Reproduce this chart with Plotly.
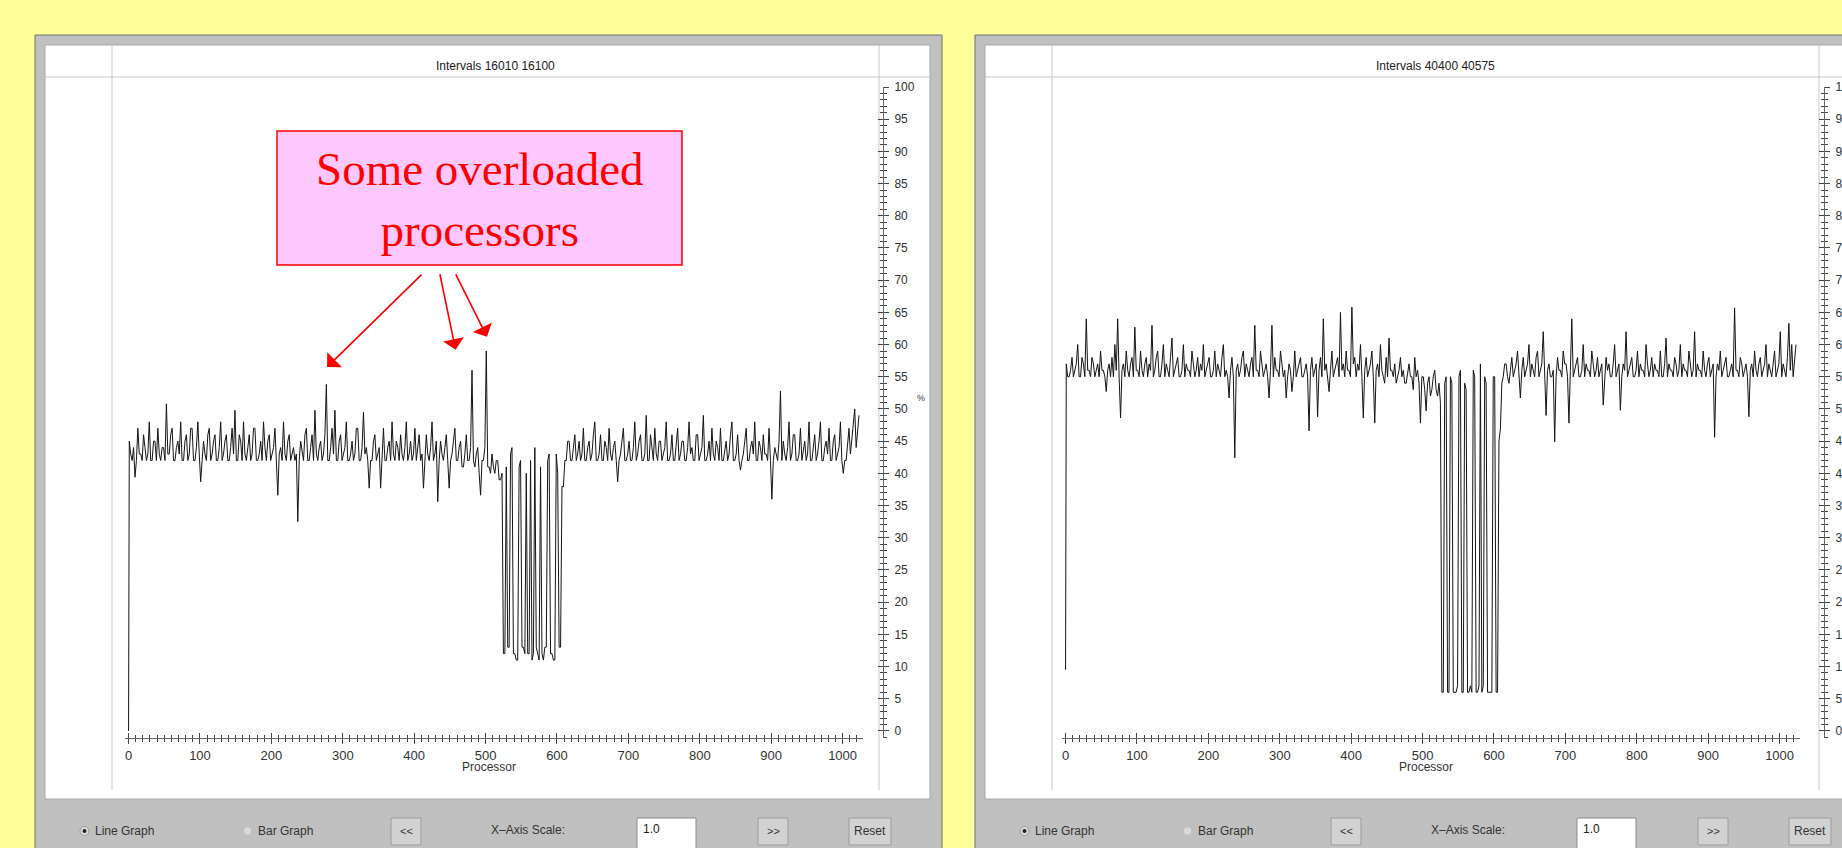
import plotly.graph_objects as go

W, H = 1842, 848

# ---------------- data ----------------
# processor 0, then every 2nd processor from 1
processors = [0] + list(range(1, 1024, 2))

left_usage = [0,
    45, 43, 42, 44, 39.4, 42, 47, 43, 43, 42, 46, 44, 42, 43, 48, 42, 42, 45, 45, 42, 47, 43, 42, 44, 44, 42, 50.8, 43, 43, 46, 47, 42,
    42, 44, 45, 43, 48, 42, 42, 45, 46, 42, 43, 47, 47, 42, 42, 44, 48, 43, 38.7, 42, 45, 43, 42, 46, 47, 42, 43, 45, 46, 42, 42, 44,
    48, 42, 43, 45, 46, 42, 42, 44, 47, 43, 49.8, 42, 42, 46, 45, 42, 48, 43, 42, 44, 46, 42, 43, 47, 47, 42, 42, 43, 45, 42, 48, 44,
    42, 45, 46, 42, 43, 44, 47, 42, 36.6, 43, 44, 42, 48, 43, 42, 45, 46, 42, 43, 44, 42, 43, 32.5, 42, 45, 43, 42, 46, 47, 42, 42, 44,
    46, 42, 49.8, 43, 42, 44, 45, 42, 43, 46, 53.8, 42, 42, 44, 47, 43, 49.8, 42, 42, 45, 46, 42, 43, 44, 48, 42, 42, 43, 45, 42, 43, 47,
    47, 42, 42, 44, 49.5, 43, 44, 42, 37.7, 42, 42, 45, 46, 42, 43, 44, 37.7, 43, 47, 42, 42, 44, 45, 42, 48, 43, 42, 45, 44, 42, 46, 43,
    42, 44, 48, 42, 43, 45, 42, 43, 47, 42, 44, 46, 42, 43, 37.7, 42, 46, 43, 42, 44, 48, 42, 43, 45, 35.6, 42, 45, 43, 42, 44, 46, 42,
    37.7, 42, 43, 45, 47, 42, 42, 44, 45, 41, 41, 43, 46, 42, 42, 44, 56, 42, 41, 43, 44, 40, 36.6, 42, 42, 44, 59, 41, 41, 40, 43, 41,
    40, 42, 42, 39, 39, 40, 12, 12, 41, 13, 13, 43, 44, 12, 12, 11, 11, 41, 42, 13, 13, 12, 40, 12, 12, 42, 11, 12, 44, 13, 12, 11,
    41, 12, 11, 13, 13, 42, 43, 12, 12, 11, 11, 43, 40, 13, 13, 38, 37.9, 42, 42, 45, 45, 42, 42, 44, 46, 42, 43, 45, 42, 43, 47, 42,
    42, 44, 45, 42, 43, 46, 48, 42, 42, 43, 46, 42, 42, 45, 44, 42, 47, 43, 42, 44, 45, 42, 38.7, 42, 43, 45, 47, 42, 42, 43, 45, 42,
    42, 44, 48, 42, 43, 45, 46, 42, 42, 43, 49, 42, 42, 46, 44, 42, 47, 43, 42, 45, 45, 42, 43, 44, 48, 42, 42, 43, 46, 42, 42, 45,
    47, 42, 43, 45, 45, 42, 42, 44, 48, 43, 44, 42, 42, 46, 46, 42, 43, 44, 49, 42, 42, 43, 45, 42, 47, 43, 42, 45, 44, 42, 47, 42,
    42, 44, 45, 42, 43, 46, 48, 42, 42, 43, 46, 42, 40.5, 42, 43, 45, 47, 42, 42, 44, 45, 43, 48, 42, 42, 45, 44, 42, 46, 43, 43, 42,
    47, 42, 36, 42, 44, 43, 42, 45, 52.8, 42, 45, 43, 42, 44, 48, 42, 43, 46, 46, 42, 42, 43, 47, 42, 44, 45, 42, 43, 48, 42, 42, 44,
    46, 42, 43, 45, 48, 42, 42, 44, 45, 43, 47, 42, 42, 45, 46, 42, 43, 44, 48, 42, 40, 42, 42, 45, 47, 43, 45, 47, 50, 44, 46, 49,
]

right_usage = [9.5,
    57, 55, 55, 56, 58, 55, 56, 57, 60, 55, 55, 58, 57, 55, 64, 56, 56, 55, 58, 57, 55, 56, 57, 55, 59, 56, 56, 55, 52.7, 56, 57, 55,
    58, 55, 60, 56, 64, 55, 48.6, 56, 57, 55, 59, 56, 55, 57, 58, 55, 62.7, 56, 56, 55, 59, 56, 55, 57, 58, 55, 57, 56, 63, 55, 56, 58,
    59, 55, 55, 57, 60, 55, 57, 56, 55, 58, 61, 55, 56, 57, 58, 55, 55, 56, 60, 55, 57, 56, 56, 55, 59, 57, 55, 56, 58, 55, 57, 56,
    60, 55, 56, 57, 58, 55, 55, 56, 59, 55, 57, 56, 55, 58, 60, 55, 56, 55, 51.7, 56, 58, 55, 42.4, 56, 57, 55, 56, 58, 59, 55, 57, 56,
    55, 57, 58, 55, 63, 56, 56, 55, 59, 57, 55, 56, 57, 55, 51.7, 56, 63, 55, 58, 56, 56, 55, 59, 57, 55, 56, 51.7, 55, 57, 56, 52.7, 55,
    59, 55, 56, 57, 58, 55, 55, 56, 57, 55, 46.6, 56, 58, 55, 56, 57, 48.8, 56, 58, 55, 64, 56, 57, 55, 52.7, 56, 59, 55, 56, 57, 58, 55,
    65, 56, 57, 55, 59, 56, 56, 55, 65.8, 57, 58, 55, 57, 56, 60, 55, 48.6, 56, 58, 55, 56, 57, 59, 55, 47.8, 56, 57, 55, 60, 56, 55, 54,
    58, 55, 61, 56, 56, 55, 57, 54, 55, 56, 58, 55, 56, 54, 54, 56, 57, 55, 55, 53, 58, 55, 56, 54, 47.8, 55, 55, 53, 49.7, 54, 55, 52,
    53, 55, 56, 53, 52, 54, 51, 6, 6, 54, 55, 6, 6, 55, 54, 6, 6, 6, 7, 55, 56, 6, 6, 54, 53, 6, 6, 7, 6, 56, 55, 6,
    6, 7, 57, 6, 7, 55, 54, 6, 6, 6, 6, 55, 55, 6, 6, 45, 46.9, 54, 55, 57, 57, 55, 54, 56, 58, 55, 56, 57, 59, 55, 51.7, 56,
    58, 55, 56, 57, 60, 55, 57, 56, 55, 58, 59, 55, 56, 57, 62, 55, 49, 56, 57, 55, 55, 56, 44.9, 55, 58, 56, 56, 55, 59, 57, 57, 55,
    47.8, 56, 64, 55, 56, 57, 58, 55, 55, 56, 60, 55, 57, 56, 56, 55, 59, 57, 55, 56, 58, 55, 56, 57, 50.6, 55, 58, 56, 57, 55, 55, 57,
    60, 55, 56, 57, 49.8, 55, 57, 56, 62, 55, 56, 57, 58, 55, 55, 56, 59, 55, 57, 56, 56, 55, 60, 57, 55, 56, 58, 55, 57, 56, 56, 55,
    59, 55, 55, 57, 61, 55, 57, 56, 56, 55, 58, 57, 55, 56, 60, 55, 57, 56, 56, 55, 59, 57, 55, 56, 62, 55, 57, 56, 56, 55, 59, 56,
    55, 57, 58, 55, 56, 57, 45.6, 55, 57, 56, 59, 55, 56, 57, 58, 55, 55, 56, 57, 55, 65.7, 56, 56, 55, 58, 57, 55, 56, 57, 55, 48.8, 56,
    57, 55, 59, 56, 55, 57, 58, 55, 56, 57, 60, 55, 57, 56, 55, 57, 59, 55, 56, 57, 62, 55, 57, 56, 55, 58, 63.3, 56, 60, 55, 57, 60,
]

titles = ["Intervals 16010 16100", "Intervals 40400 40575"]
x_title = "Processor"
y_unit = "%"
callout_text = "Some overloaded<br>processors"
# callout arrow targets (processor, usage) in left panel
arrow_targets_proc = [278, 458, 502]
arrow_targets_val = [56.5, 59.2, 61.2]

controls = ["Line Graph", "Bar Graph", "<<", "X\u2013Axis Scale:", "1.0", ">>", "Reset"]

# ---------------- helpers ----------------
def px(x):
    return x / W

def py(y):
    return 1 - y / H

YELLOW = "#FFFF99"
GREY = "#C0C0C0"
SEP = "#C9C9C9"
TXT = "#333333"
FONT = "Liberation Sans"

fig = go.Figure()

panel_offsets = [0, 940]
xdom_offsets = [0, 937]

for i, data in enumerate([left_usage, right_usage]):
    fig.add_trace(go.Scatter(
        x=processors, y=data, mode="lines",
        line=dict(color="#141414", width=1),
        xaxis="x" if i == 0 else "x2", yaxis="y" if i == 0 else "y2",
        showlegend=False, hoverinfo="skip"))

# dummy traces for overlay axes (inside ticks -> crossing tick marks)
fig.add_trace(go.Scatter(x=[None], y=[None], xaxis="x3", yaxis="y3", showlegend=False))
fig.add_trace(go.Scatter(x=[None], y=[None], xaxis="x4", yaxis="y4", showlegend=False))

XRANGE = [-5, 1028.6]
YRANGE = [-1.1, 100]
ydom = [py(738), py(87)]

def xaxis_cfg(dx, inside=False, anchor="y"):
    return dict(
        domain=[px(125 + dx), px(863 + dx)], range=XRANGE, anchor=anchor,
        tickmode="linear", tick0=0, dtick=100, automargin=False,
        ticks="inside" if inside else "outside", ticklen=5, tickwidth=1, tickcolor="#444",
        minor=dict(dtick=10, ticklen=3, tickwidth=1, tickcolor="#444",
                   ticks="inside" if inside else "outside"),
        showgrid=False, zeroline=False, showline=not inside, linecolor="#666", linewidth=1,
        showticklabels=not inside,
        tickfont=dict(family=FONT, size=13, color=TXT),
    )

def yaxis_cfg(pos, inside=False):
    return dict(
        domain=ydom, range=YRANGE, anchor="free", position=px(pos), side="right",
        tickmode="linear", tick0=0, dtick=5, automargin=False,
        ticks="inside" if inside else "outside", ticklen=5, tickwidth=1, tickcolor="#444",
        minor=dict(dtick=1, ticklen=3, tickwidth=1, tickcolor="#444",
                   ticks="inside" if inside else "outside"),
        showgrid=False, zeroline=False, showline=not inside, linecolor="#666", linewidth=1,
        showticklabels=not inside, ticklabelstandoff=3,
        tickfont=dict(family=FONT, size=12, color=TXT),
    )

xa3 = xaxis_cfg(xdom_offsets[0], inside=True, anchor="y3"); xa3["overlaying"] = "x"
xa4 = xaxis_cfg(xdom_offsets[1], inside=True, anchor="y4"); xa4["overlaying"] = "x2"
ya3 = yaxis_cfg(883, inside=True); ya3["overlaying"] = "y"
ya4 = yaxis_cfg(1824, inside=True); ya4["overlaying"] = "y2"

fig.update_layout(
    xaxis=xaxis_cfg(xdom_offsets[0], anchor="y"),
    xaxis2=xaxis_cfg(xdom_offsets[1], anchor="y2"),
    yaxis=yaxis_cfg(883),
    yaxis2=yaxis_cfg(1824),
    xaxis3=xa3, xaxis4=xa4, yaxis3=ya3, yaxis4=ya4,
)

shapes = []
annotations = []

def rect(x0, y0, x1, y1, fill, line="rgba(0,0,0,0)", lw=1, layer="below"):
    shapes.append(dict(type="rect", xref="paper", yref="paper",
                       x0=px(x0), x1=px(x1), y0=py(y1), y1=py(y0),
                       fillcolor=fill, line=dict(color=line, width=lw), layer=layer))

def hline(x0, x1, y, color, lw=1):
    shapes.append(dict(type="line", xref="paper", yref="paper",
                       x0=px(x0), x1=px(x1), y0=py(y), y1=py(y),
                       line=dict(color=color, width=lw), layer="below"))

def vline(x, y0, y1, color, lw=1):
    shapes.append(dict(type="line", xref="paper", yref="paper",
                       x0=px(x), x1=px(x), y0=py(y0), y1=py(y1),
                       line=dict(color=color, width=lw), layer="below"))

def text(x, y, s, size=12, anchor="center", color=TXT, family=FONT):
    annotations.append(dict(xref="paper", yref="paper", x=px(x), y=py(y), text=s,
                            showarrow=False, xanchor=anchor, yanchor="middle",
                            font=dict(family=family, size=size, color=color)))

for i, off in enumerate(panel_offsets):
    right_edge = 942 + off if i == 0 else W + 2
    white_right = 930 + off if i == 0 else W + 2
    # panel frame
    rect(35 + off, 35, right_edge, H + 2, GREY, "#707070", 1)
    rect(45 + off, 45, white_right, 799, "white", "#A8A8A8", 1)
    # separators
    vline(112 + off, 45, 790, SEP)
    vline(879 + off, 45, 790, SEP)
    hline(45 + off, white_right, 77, SEP)
    # title
    text(495.5 + off, 65.5, titles[i], size=12, color="#222")
    # x-axis title
    annotations.append(dict(xref="x" if i == 0 else "x2", yref="paper", x=505, y=py(767),
                            text=x_title, showarrow=False, xanchor="center", yanchor="middle",
                            font=dict(family=FONT, size=12, color=TXT)))
    # y unit (right panel's one lies past the page edge, as in the screenshot)
    if i == 0:
        text(921 + off, 398, y_unit, size=9)
    # controls
    shapes.append(dict(type="circle", xref="paper", yref="paper",
                       x0=px(80 + off), x1=px(89 + off), y0=py(835.5), y1=py(826.5),
                       fillcolor="#DCDCDC", line=dict(color="#9A9A9A", width=1), layer="below"))
    shapes.append(dict(type="circle", xref="paper", yref="paper",
                       x0=px(82.5 + off), x1=px(86.5 + off), y0=py(833), y1=py(829),
                       fillcolor="#222", line=dict(color="#222", width=0), layer="below"))
    shapes.append(dict(type="circle", xref="paper", yref="paper",
                       x0=px(243 + off), x1=px(252 + off), y0=py(835.5), y1=py(826.5),
                       fillcolor="#D8D8D8", line=dict(color="#B8B8B8", width=1), layer="below"))
    text(93 + off, 831, controls[0], size=12, anchor="left")
    text(256 + off, 831, controls[1], size=12, anchor="left")
    rect(391 + off, 818, 421 + off, 845, "#D2D2D2", "#9C9C9C", 1)
    text(406 + off, 831, controls[2], size=11)
    text(528 + off, 830, controls[3], size=12)
    rect(637 + off, 818, 696 + off, H + 2, "white", "#8C8C8C", 1)
    text(641 + off, 829, controls[4], size=12, anchor="left", color="#222")
    rect(758 + off, 818, 788 + off, 845, "#D2D2D2", "#9C9C9C", 1)
    text(773 + off, 831, controls[5], size=11)
    rect(849 + off, 818, 891 + off, 845, "#D2D2D2", "#9C9C9C", 1)
    text(870 + off, 831, controls[6], size=12)

# callout box
rect(277, 131, 682, 265, "#FFC8FF", "#FF0000", 1.5, layer="above")
annotations.append(dict(xref="paper", yref="paper", x=px(479.5), y=py(199), text=callout_text,
                        showarrow=False, xanchor="center", yanchor="middle",
                        font=dict(family="Liberation Serif", size=47, color="#FF0000")))
tails = [(423, 273), (439, 273), (455, 273)]
tips_px = [(327, 367), (455, 350), (487, 337)]
for (tx, ty), (hx, hy), p, v in zip(tails, tips_px, arrow_targets_proc, arrow_targets_val):
    annotations.append(dict(xref="x", yref="y", x=p, y=v, text="", showarrow=True,
                            axref="pixel", ayref="pixel", ax=tx - hx, ay=ty - hy,
                            arrowhead=1, arrowsize=2.2, arrowwidth=1.6, arrowcolor="#FF0000",
                            standoff=0))

fig.update_layout(
    width=W, height=H, autosize=False,
    margin=dict(l=0, r=0, t=0, b=0, pad=0, autoexpand=False),
    paper_bgcolor=YELLOW, plot_bgcolor="rgba(0,0,0,0)",
    shapes=shapes, annotations=annotations,
    showlegend=False,
)

fig.write_html(
    "out.html",
    config={"displayModeBar": False},
    post_script=(
        "document.documentElement.style.margin='0';"
        "document.documentElement.style.overflow='hidden';"
        "document.body.style.margin='0';"
        "document.body.style.overflow='hidden';"
        "window.scrollTo(0,0);"
    ),
)
